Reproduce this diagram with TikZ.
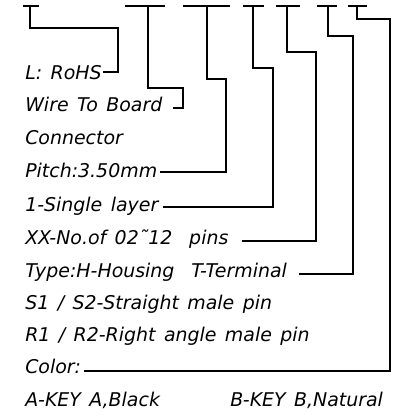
\documentclass[tikz,border=0pt]{standalone}
\usepackage{fontspec}
\setmainfont[WordSpace=1.4]{DejaVu Sans}
\begin{document}
\begin{tikzpicture}[x=0.75pt,y=-0.75pt,
  lbl/.style={anchor=base west,inner sep=0pt,font=\fontsize{14.2}{17}\selectfont\itshape},
  wire/.style={line width=0.9pt,line join=miter,line cap=rect}]
\useasboundingbox (0,0) rectangle (403,416);
% labels
\node[lbl] (t1) at (25,80) {L: RoHS};
\node[lbl] (t2) at (25,112) {Wire To Board};
\node[lbl] (t3) at (25,145) {Connector};
\node[lbl] (t4) at (25,178) {Pitch:3.50mm};
\node[lbl] (t5) at (25,211) {1-Single layer};
\node[lbl] (t6) at (25,244) {XX-No.of 02˜12\ \ pins};
\node[lbl] (t7) at (25,277) {Type:H-Housing\ \ T-Terminal};
\node[lbl] (t8) at (25,309) {S1 / S2-Straight male pin};
\node[lbl] (t9) at (25,341) {R1 / R2-Right angle male pin};
\node[lbl] (t10) at (25,373) {Color:};
\node[lbl] (t11) at (25,406) {A-KEY A,Black};
\node[lbl] (t12) at (230,406) {B-KEY B,Natural};
% top bars
\coordinate (b1l) at (23,6);  \coordinate (b1r) at (39,6);  \coordinate (v1) at (30,6);
\coordinate (b2l) at (125,6); \coordinate (b2r) at (165,6); \coordinate (v2) at (148,6);
\coordinate (b3l) at (183,6); \coordinate (b3r) at (230,6); \coordinate (v3) at (207,6);
\coordinate (b4l) at (243,6); \coordinate (b4r) at (264,6); \coordinate (v4) at (253,6);
\coordinate (b5l) at (276,6); \coordinate (b5r) at (300,6); \coordinate (v5) at (287,6);
\coordinate (b6l) at (317,6); \coordinate (b6r) at (337,6); \coordinate (v6) at (328,6);
\coordinate (b7l) at (348,6); \coordinate (b7r) at (367,6); \coordinate (v7) at (357,6);
\foreach \i in {1,...,7}{\draw[wire,line cap=butt] (b\i l) -- (b\i r);}
% line ends at labels
\coordinate (e1) at (104,72);
\coordinate (e2) at (174,108);
\coordinate (e4) at (161,172);
\coordinate (e5) at (164,207);
\coordinate (e6) at (243,241);
\coordinate (e7) at (300,274);
\coordinate (e10) at (85,371);
% leaders
\draw[wire] (v1) |- (118,28) |- (e1);
\draw[wire] (v2) |- (183,88) |- (e2);
\draw[wire] (v3) |- (226,79) |- (e4);
\draw[wire] (v4) |- (273,68) |- (e5);
\draw[wire] (v5) |- (316,52) |- (e6);
\draw[wire] (v6) |- (353,36) |- (e7);
\draw[wire] (v7) |- (390,19) |- (e10);
\end{tikzpicture}
\end{document}
